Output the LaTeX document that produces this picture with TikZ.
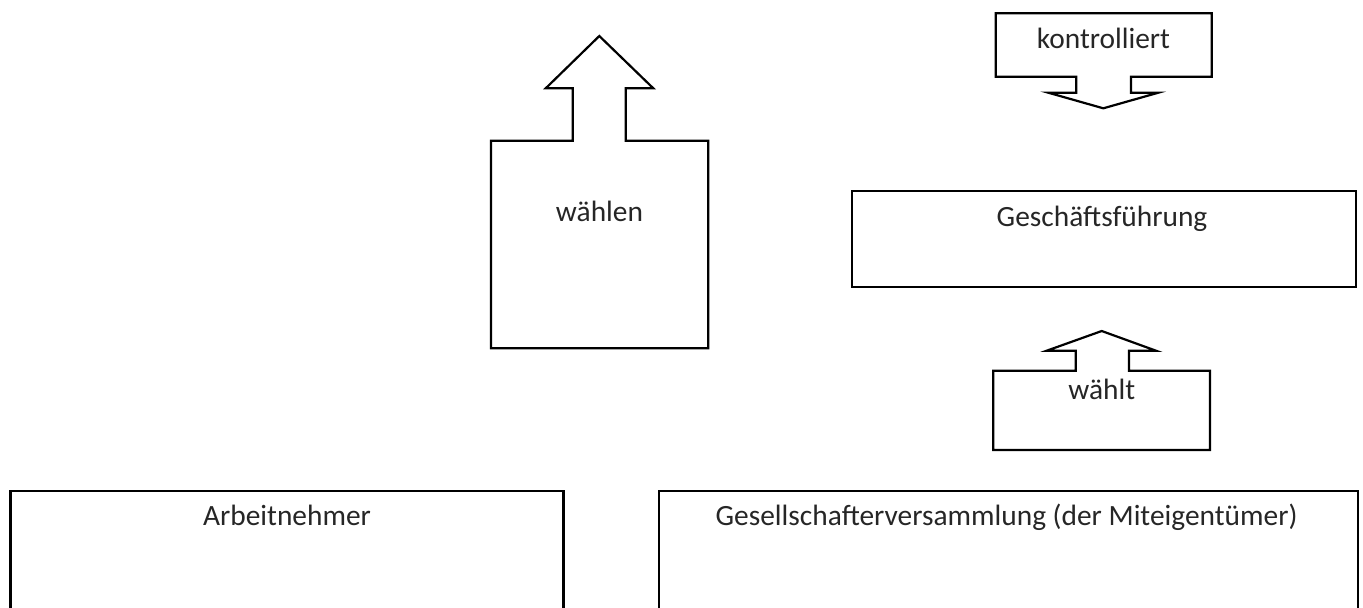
\documentclass[tikz,border=0pt]{standalone}
\usepackage{fontspec}
\setmainfont{Carlito}
\begin{document}
\begin{tikzpicture}[x=0.5pt,y=-0.5pt,
  shapeline/.style={draw=black,line width=1.1pt,line join=miter},
  lbl/.style={anchor=base,inner sep=0pt,text=black!85,font=\fontsize{14.7pt}{17pt}\selectfont}]
\useasboundingbox (0,0) rectangle (1363,607);
\clip (0,0) rectangle (1363,607);
% wählen arrow box
\draw[shapeline] (491,348.3) -- (491,140.7) -- (572.7,140.7) -- (572.7,88.3) -- (545.7,88.3) -- (599.3,36) -- (653.3,88.3) -- (625.7,88.3) -- (625.7,140.7) -- (708.3,140.7) -- (708.3,348.3) -- cycle;
\node[lbl] (waehlen) at (599.5,221.7) {wählen};
% kontrolliert arrow box
\draw[shapeline] (995.7,13.3) -- (1211.7,13.3) -- (1211.7,76.7) -- (1131,76.7) -- (1131,92.7) -- (1158.3,92.7) -- (1103.3,108.3) -- (1048.3,92.7) -- (1076.3,92.7) -- (1076.3,76.7) -- (995.7,76.7) -- cycle;
\node[lbl] (kontrolliert) at (1103.5,48.3) {kontrolliert};
% Geschäftsführung
\draw[shapeline] (851.7,190.7) rectangle (1355.7,286.7);
\node[lbl] (gf) at (1102,226) {Geschäftsführung};
% wählt arrow box
\draw[shapeline] (993.3,450) -- (993.3,370.7) -- (1075.7,370.7) -- (1075.7,350.7) -- (1046.7,350.7) -- (1101.7,331) -- (1156,350.7) -- (1129,350.7) -- (1129,370.7) -- (1210,370.7) -- (1210,450) -- cycle;
\node[lbl] (waehlt) at (1101.7,399) {wählt};
% bottom boxes
\draw[shapeline] (10.4,490.7) rectangle (563.5,640);
\node[lbl] (an) at (287,525) {Arbeitnehmer};
\draw[shapeline] (659,490.7) rectangle (1358,640);
\node[lbl] (gv) at (1006.5,525) {Gesellschafterversammlung (der Miteigentümer)};
\end{tikzpicture}
\end{document}
